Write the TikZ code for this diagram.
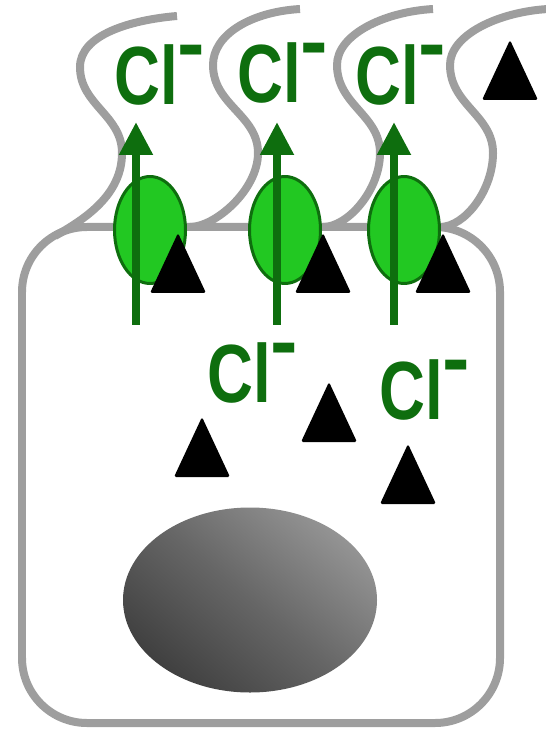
\documentclass[tikz,border=0pt]{standalone}
\usepackage{fontspec}
\usepackage{tikz}
\usetikzlibrary{arrows.meta, shapes.geometric}

\definecolor{membrane}{RGB}{158,158,158}
\definecolor{clgreen}{RGB}{14,110,14}
\definecolor{chgreen}{RGB}{34,200,34}

\newfontfamily\ionfont[FakeStretch=0.77]{Liberation Sans Bold}
\newfontfamily\chargefont{Liberation Sans Bold}
\newcommand{\chloride}{{\ionfont Cl}{\chargefont\raisebox{0.39em}{-}}}

\tikzset{
    ionlabel/.style={clgreen, anchor=north west, inner sep=0pt,
        font=\fontsize{47}{47}\selectfont},
    channel/.style={ellipse, draw=clgreen, fill=chgreen, line width=0.06cm,
        minimum width=1.42cm, minimum height=2.14cm, inner sep=0pt},
    villus/.style={membrane, line width=0.16cm},
}

\begin{document}
\begin{tikzpicture}[x=0.02cm, y=-0.02cm, >=Stealth]
        % 1 jedn. = 1 px, os y w dol
        \useasboundingbox (0,0) rectangle (546,732);

        % === KOMORKA ===
        \draw[membrane, line width=0.16cm, rounded corners=1.3cm]
            (22,227) rectangle (500,723);

        % === MIKROKOSMKI ===
        % pierwszy odchodzi od zaokraglonego rogu
        \draw[villus] (55,236) .. controls (85,219) and (122,195) .. (122,153)
            .. controls (122,115) and (80,105) .. (80,67)
            .. controls (80,35) and (130,20) .. (177,16);
        % baza / prawy garb / lewy garb / koniec
        \foreach \b/\r/\l/\t in {190/258/213/300, 323/380/337/433, 440/493/450/548} {
            \draw[villus] (\b,227) .. controls (\b+25,227) and (\r,190) .. (\r,153)
                .. controls (\r,115) and (\l,105) .. (\l,65)
                .. controls (\l,35) and (\t-50,12) .. (\t,9);
        }

        % === JADRO ===
        \shade[top color=black!42, bottom color=black!75, middle color=black!60,
            shading angle=-40] (250,600) ellipse [x radius=127, y radius=92.5];

        % === KANALY ===
        \foreach \x [count=\i] in {150,285,404}
            \node[channel] (ch\i) at (\x,230) {};

        % === PRZEPLYW Cl- ===
        \foreach \x in {136,277,394}
            \draw[clgreen, line width=0.16cm, -{Triangle[length=0.66cm, width=0.64cm]}]
                (\x,325) -- (\x,122);

        % === CZASTKI (trojkaty) ===
        % wierzcholek (x,y), podstawa 60 nizej
        \foreach \x/\y in {178/233, 323/233, 443/233, 510/40, 202/417, 329/382, 408/444}
            \fill[rounded corners=1pt] (\x-28,\y+60) -- (\x,\y) -- (\x+28,\y+60) -- cycle;

        % === ETYKIETY ===
        \node[ionlabel] (clout1) at (114,44) {\chloride};
        \node[ionlabel] (clout2) at (237,42) {\chloride};
        \node[ionlabel] (clout3) at (355,44) {\chloride};
        \node[ionlabel] (clin1) at (207,342) {\chloride};
        \node[ionlabel] (clin2) at (379,359) {\chloride};

    \end{tikzpicture}
\end{document}
